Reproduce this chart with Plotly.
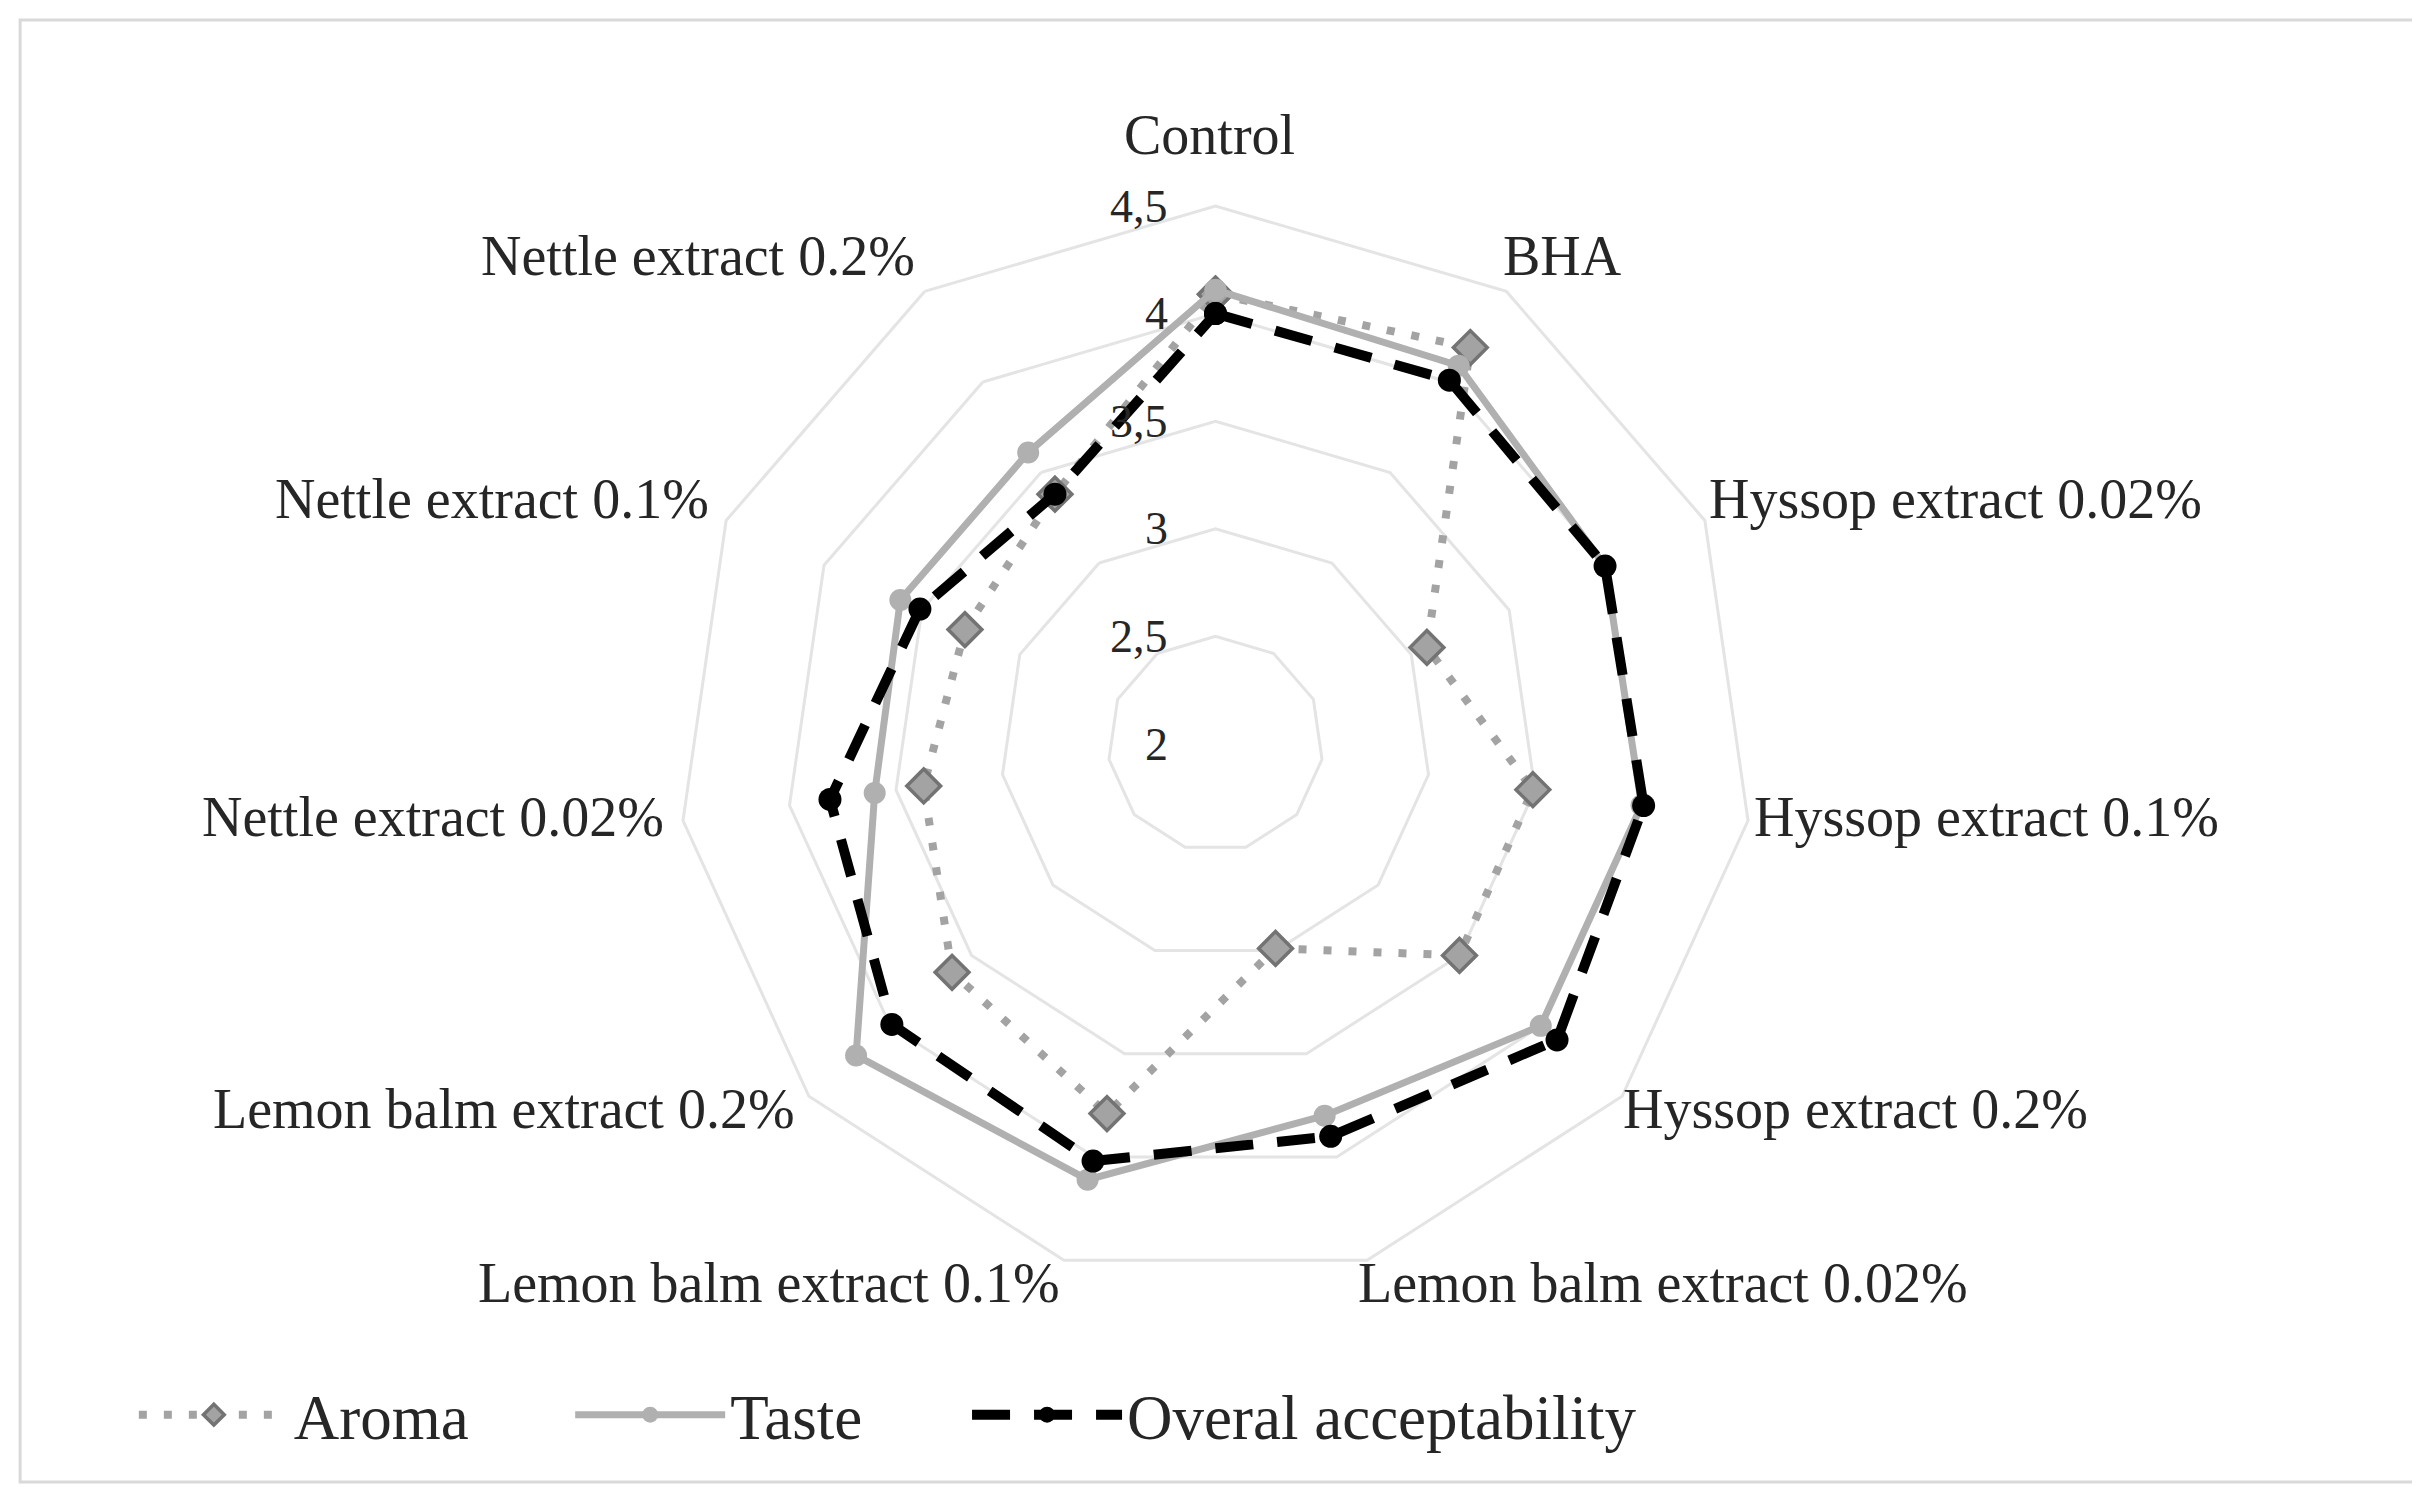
import numpy as np
import plotly.graph_objects as go

categories = ["Control", "BHA", "Hyssop extract 0.02%", "Hyssop extract 0.1%",
              "Hyssop extract 0.2%", "Lemon balm extract 0.02%", "Lemon balm extract 0.1%",
              "Lemon balm extract 0.2%", "Nettle extract 0.02%", "Nettle extract 0.1%",
              "Nettle extract 0.2%"]
aroma = [4.09, 4.19, 3.08, 3.49, 3.50, 2.99, 3.79, 3.62, 3.37, 3.28, 3.38]
taste = [4.11, 4.09, 3.99, 4.00, 4.00, 3.80, 4.11, 4.21, 3.60, 3.61, 3.61]
overall = [4.00, 4.01, 3.99, 4.01, 4.10, 3.90, 4.02, 3.99, 3.81, 3.51, 3.38]
tick_vals = [2, 2.5, 3, 3.5, 4, 4.5]
tick_text = ["2", "2,5", "3", "3,5", "4", "4,5"]

FONT = "Liberation Serif"
TXT = "#262626"
W, H = 2420, 1487
DOM_X = [0.27666, 0.72128]
DOM_Y = [0.14324, 0.86684]
R_MIN, R_MAX = 2, 4.5


def closed(v):
    return list(v) + [v[0]]


cats_c = closed(categories)

fig = go.Figure()
fig.add_trace(go.Scatterpolar(
    r=closed(aroma), theta=cats_c, name="Aroma", mode="lines+markers",
    line=dict(color="#a3a3a3", width=8, dash="8px,17px"),
    marker=dict(symbol="diamond", size=26, color="#a3a3a3",
                line=dict(color="#737373", width=3.5)),
    legend="legend",
))
fig.add_trace(go.Scatterpolar(
    r=closed(taste), theta=cats_c, name="Taste", mode="lines+markers",
    line=dict(color="#b0b0b0", width=7),
    marker=dict(symbol="circle", size=22, color="#b0b0b0"),
    legend="legend2",
))
fig.add_trace(go.Scatterpolar(
    r=closed(overall), theta=cats_c, name="Overal acceptability", mode="lines+markers",
    line=dict(color="#000000", width=10, dash="38px,24px"),
    marker=dict(symbol="circle", size=23, color="#000000"),
    legend="legend3",
))

cx = (DOM_X[0] + DOM_X[1]) / 2
cy = (DOM_Y[0] + DOM_Y[1]) / 2
R = (DOM_X[1] - DOM_X[0]) * W / 2
annotations = []

# category labels placed Excel-style just outside each vertex of the outer ring
n = len(categories)
for k, name in enumerate(categories):
    a = np.deg2rad(360.0 * k / n)
    s, c = np.sin(a), np.cos(a)
    x = cx + R * s / W
    y = cy + R * c / H
    if k == 0:
        xa, xs, ys = "center", -6, 71
    elif s > 0:
        xa, xs, ys = "left", 21 * s - 17, 32 * c + 8
    else:
        xa, xs, ys = "right", 21 * s + 4, 32 * c + 8
    annotations.append(dict(text=name, x=x, y=y, xref="paper", yref="paper",
                            xanchor=xa, yanchor="middle", xshift=xs, yshift=ys,
                            showarrow=False,
                            font=dict(family=FONT, size=56, color=TXT)))

# radial value labels, right-aligned to the left of the vertical axis
for v, t in zip(tick_vals, tick_text):
    y = cy + (v - R_MIN) / (R_MAX - R_MIN) * R / H
    annotations.append(dict(text=t, x=cx, y=y, xref="paper", yref="paper",
                            xanchor="right", yanchor="middle", xshift=-46,
                            showarrow=False,
                            font=dict(family=FONT, size=46, color=TXT)))

leg_common = dict(orientation="h", xanchor="left", y=0.054, yanchor="middle",
                  font=dict(family=FONT, size=63, color=TXT), itemwidth=150,
                  bgcolor="rgba(0,0,0,0)")

fig.update_layout(
    width=W, height=H,
    margin=dict(l=0, r=0, t=0, b=0),
    paper_bgcolor="white",
    font=dict(family=FONT, color=TXT, size=52),
    showlegend=True,
    legend=dict(x=0.052, **leg_common),
    legend2=dict(x=0.2323, **leg_common),
    legend3=dict(x=0.3963, **leg_common),
    polar=dict(
        domain=dict(x=DOM_X, y=DOM_Y),
        bgcolor="white",
        gridshape="linear",
        radialaxis=dict(
            range=[R_MIN, R_MAX], tickvals=tick_vals,
            angle=90, showline=False, ticks="", showticklabels=False,
            gridcolor="#e4e4e4", gridwidth=3,
        ),
        angularaxis=dict(
            categoryarray=categories, categoryorder="array",
            rotation=90, direction="clockwise",
            showgrid=False, showline=True, linecolor="#e4e4e4", linewidth=3,
            showticklabels=False, ticks="",
        ),
    ),
    annotations=annotations,
    shapes=[dict(type="rect", xref="paper", yref="paper",
                 x0=0.005, x1=0.995, y0=0.0087, y1=0.992,
                 line=dict(color="#d9d9d9", width=3))],
)

fig.write_html("out.html")
